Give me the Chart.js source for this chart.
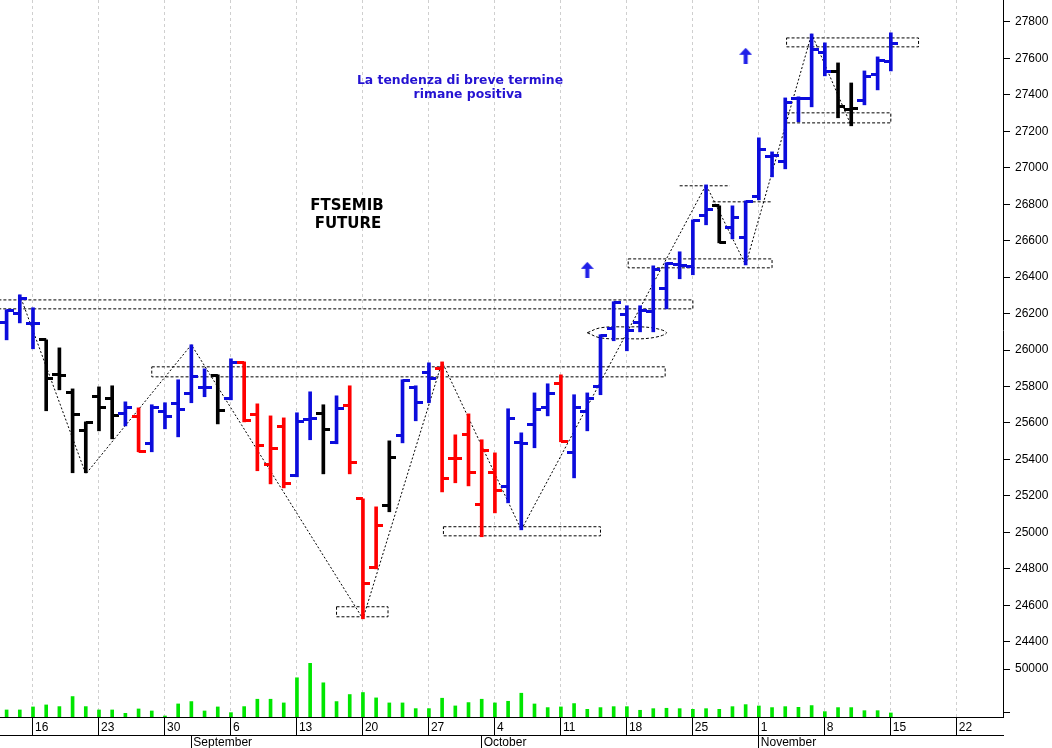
<!DOCTYPE html>
<html>
<head>
<meta charset="utf-8">
<script src="https://cdn.jsdelivr.net/npm/chart.js@4.4.1/dist/chart.umd.min.js"></script>
<style>
  html, body { margin: 0; padding: 0; background: #fff; }
  #wrap { position: relative; width: 1052px; height: 748px; overflow: hidden; }
  canvas { display: block; }
  .note { position: absolute; font-family: "DejaVu Sans", Verdana, sans-serif; font-weight: bold;
          white-space: nowrap; text-align: center; line-height: 1; }
</style>
</head>
<body>
<div id="wrap">
  <canvas id="chart" width="1052" height="748"></canvas>
  <div class="note" style="left:310px;top:74px;width:300px;font-size:12.4px;color:#2412d2">La tendenza di breve termine</div>
  <div class="note" style="left:318px;top:88px;width:300px;font-size:12.4px;color:#2412d2">rimane positiva</div>
  <div class="note" style="left:247px;top:198px;width:200px;font-size:15px;color:#000">FTSEMIB</div>
  <div class="note" style="left:248px;top:216px;width:200px;font-size:15px;color:#000">FUTURE</div>
</div>
<script>
// trading days, 12 Aug -> 15 Nov 2021 (x = position in this list)
const dates = [
  "12/08","13/08","16/08","17/08","18/08","19/08","20/08","23/08","24/08","25/08","26/08","27/08","30/08","31/08",
  "01/09","02/09","03/09","06/09","07/09","08/09","09/09","10/09","13/09","14/09","15/09","16/09","17/09","20/09",
  "21/09","22/09","23/09","24/09","27/09","28/09","29/09","30/09",
  "01/10","04/10","05/10","06/10","07/10","08/10","11/10","12/10","13/10","14/10","15/10","18/10","19/10","20/10",
  "21/10","22/10","25/10","26/10","27/10","28/10","29/10",
  "01/11","02/11","03/11","04/11","05/11","08/11","09/11","10/11","11/11","12/11","15/11"
];
const open = [26149,26199,26145,26056,25866,25765,25560,25744,25733,25650,25634,25486,25661,25705,
  25760,25795,25859,25733,25930,25645,25371,25579,25310,25617,25650,25491,25694,25184,
  24806,25146,25530,25793,25875,25897,25404,25535,
  25151,25327,25250,25491,25590,25683,25815,25436,25661,25798,26116,26193,26149,26210,
  26336,26468,26456,26736,26791,26670,26616,
  26840,27060,27032,27378,27378,27630,27526,27317,27367,27509,27581];
const high = [26221,26303,26232,26056,26012,25787,25606,25798,25804,25716,25683,25700,25711,25837,
  26029,25897,25864,25952,25935,25705,25639,25628,25656,25771,25700,25749,25804,25184,
  25140,25502,25837,25804,25930,25935,25535,25650,
  25508,25436,25678,25546,25765,25815,25864,25755,25765,26084,26265,26243,26243,26462,
  26479,26539,26714,26906,26791,26791,26818,
  27164,27087,27383,27389,27734,27685,27575,27465,27531,27608,27740];
const low = [26056,26149,26007,25667,25782,25327,25327,25557,25513,25584,25442,25442,25568,25524,
  25711,25744,25595,25727,25606,25338,25266,25244,25305,25508,25321,25486,25321,24526,
  24800,25113,25491,25612,25711,25222,25272,25255,
  24976,25107,25162,25014,25464,25639,25497,25299,25557,25755,26051,25996,26100,26100,
  26226,26391,26413,26687,26588,26610,26467,
  26824,26950,26994,27252,27334,27504,27274,27230,27345,27427,27531];
const close = [26215,26281,26145,25842,25860,25645,25600,25683,25639,25683,25442,25683,25634,25672,
  25853,25795,25667,25930,25612,25475,25459,25266,25606,25623,25563,25678,25382,24718,
  25036,25409,25832,25711,25842,25294,25404,25327,
  25447,25228,25623,25486,25672,25760,25497,25683,25733,26078,26259,26106,26215,26440,
  26473,26462,26709,26769,26588,26725,26813,
  27098,27065,27356,27378,27646,27526,27334,27323,27498,27586,27679];
const barColor = [
  "b","b","b","k","k","k","k","k","k","b","r","b","b","b",
  "b","b","k","b","r","r","r","r","b","b","k","b","r","r",
  "r","k","b","b","b","r","r","r",
  "r","r","b","b","b","b","r","b","b","b","b","b","b","b",
  "b","b","b","b","k","b","b",
  "b","b","b","b","b","b","k","k","b","b","b"];
const volume = [7340,7340,10490,12590,10840,21330,10840,7340,7340,3850,8390,6290,1050,13630,
  16080,6290,10490,4540,10840,18530,18530,14680,40900,55940,35660,16080,23420,25520,
  19930,14680,14680,8740,8740,19580,11540,15030,
  18530,14680,16400,24800,13600,9800,10500,14000,8000,9800,10800,10800,7000,8700,
  9100,8700,8000,8700,8000,10800,12900,
  11500,9800,10800,10100,11900,5600,9800,9800,6600,6600,4200];

// axis ticks
const weekTicks = [2,7,12,17,22,27,32,37,42,47,52,57,62,67,72];
const weekLabels = ["16","23","30","6","13","20","27","4","11","18","25","1","8","15","22"];
const monthTicks = [14,36,57];
const monthLabels = ["September","October","November"];
const priceTicks = [24400,24500,24600,24700,24800,24900,25000,25100,25200,25300,25400,25500,25600,25700,
  25800,25900,26000,26100,26200,26300,26400,26500,26600,26700,26800,26900,27000,27100,27200,27300,
  27400,27500,27600,27700,27800];
const volMax = 59440;
const volTicks = [4500,15000,26500,50000,volMax];

// drawn annotations: swing line, dashed boxes [x1,x2,top,bottom], dashed levels [x1,x2,y]
const swingX = [1,6,14,27,33,39,53,56,61,64];
const swingY = [26303,25320,26029,24526,25935,25014,26906,26467,27734,27230];
const boxes = [
  [-1, 52.0, 26275, 26226],
  [11.0, 49.9, 25908, 25853],
  [25.0, 28.9, 24592, 24537],
  [33.1, 45.0, 25031, 24981],
  [47.1, 58.0, 26500, 26451],
  [59.1, 69.1, 27712, 27663],
  [59.1, 67.0, 27301, 27246],
];
const levels = [[51.0, 54.8, 26901], [53.5, 57.9, 26813]];
const ovalX = [44.0, 45.0, 46.9, 48.9, 50.0, 48.9, 46.9, 45.0, 44.0];
const ovalY = [26095, 26122, 26127, 26122, 26095, 26067, 26062, 26067, 26095];
const arrowX = [44, 56];
const arrowY = [26440, 27614];

const COLORS = { b: "#0c0cdc", r: "#ff0000", k: "#000000" };
const FONT = '"Liberation Sans", Arial, sans-serif';

function tickImg(color, side) {
  const c = document.createElement("canvas");
  c.width = 14; c.height = 3;
  const g = c.getContext("2d");
  g.fillStyle = color;
  g.fillRect(side === "L" ? 0 : 7, 0, 7, 3);
  return c;
}
const openImg = {}, closeImg = {};
for (const k in COLORS) { openImg[k] = tickImg(COLORS[k], "L"); closeImg[k] = tickImg(COLORS[k], "R"); }

const arrowImg = (() => {
  const c = document.createElement("canvas");
  c.width = 13; c.height = 16;
  const g = c.getContext("2d");
  g.fillStyle = "#2020e8";
  g.beginPath(); g.moveTo(6.5, 0); g.lineTo(13, 7); g.lineTo(0, 7); g.closePath(); g.fill();
  g.fillRect(4.5, 7, 4, 9);
  return c;
})();

const dashed = (data, dash) => ({
  type: "scatter", showLine: true, data, xAxisID: "x", yAxisID: "y",
  borderColor: "#000", borderWidth: 1, borderDash: dash, pointRadius: 0, order: 5,
});

const datasets = [];
datasets.push(dashed(swingX.map((x, i) => ({ x, y: swingY[i] })), [2, 2]));
boxes.forEach(([x1, x2, t, b]) => datasets.push(dashed(
  [{ x: x1, y: t }, { x: x2, y: t }, { x: x2, y: b }, { x: x1, y: b }, { x: x1, y: t }], [3, 2])));
levels.forEach(([x1, x2, y]) => datasets.push(dashed([{ x: x1, y }, { x: x2, y }], [3, 2])));
datasets.push(Object.assign(dashed(ovalX.map((x, i) => ({ x, y: ovalY[i] })), [3, 2]), { tension: 0.4 }));

datasets.push({
  type: "bar", xAxisID: "x", yAxisID: "y", order: 1, grouped: false, barThickness: 3,
  data: dates.map((d, i) => ({ x: i, y: [low[i], high[i]] })),
  backgroundColor: barColor.map((k) => COLORS[k]),
});
datasets.push({
  type: "scatter", xAxisID: "x", yAxisID: "y", order: 0, pointRadius: 3,
  data: dates.map((d, i) => ({ x: i, y: open[i] })),
  pointStyle: (c) => openImg[barColor[c.dataIndex]],
});
datasets.push({
  type: "scatter", xAxisID: "x", yAxisID: "y", order: 0, pointRadius: 3,
  data: dates.map((d, i) => ({ x: i, y: close[i] })),
  pointStyle: (c) => closeImg[barColor[c.dataIndex]],
});
datasets.push({
  type: "scatter", xAxisID: "x", yAxisID: "y", order: 0, pointRadius: 3,
  data: arrowX.map((x, i) => ({ x, y: arrowY[i] })), pointStyle: arrowImg,
});
datasets.push({
  type: "bar", xAxisID: "x", yAxisID: "yv", order: 1, grouped: false, barThickness: 3,
  data: dates.map((d, i) => ({ x: i, y: volume[i] })), backgroundColor: "#00e600",
});

Chart.defaults.font.family = FONT;
Chart.defaults.font.size = 12;
Chart.defaults.color = "#000";

// no extra room for end labels: the plot runs edge to edge
const noPad = (s) => { s.paddingTop = 0; s.paddingBottom = 0; s.paddingLeft = 0; s.paddingRight = 0; };

new Chart(document.getElementById("chart"), {
  data: { datasets },
  options: {
    responsive: false, animation: false, events: [],
    layout: { padding: 0, autoPadding: false },
    plugins: { legend: { display: false }, tooltip: { enabled: false } },
    scales: {
      x: {
        type: "linear", position: "bottom", min: -0.5, max: 75.5, offset: false,
        afterBuildTicks: (s) => { s.ticks = weekTicks.map((v) => ({ value: v })); },
        afterFit: (s) => { s.height = 18; noPad(s); },
        grid: { offset: false, color: "#cfcfcf", tickColor: "#000", tickLength: 18 },
        border: { display: true, color: "#000", dash: [3, 3] },
        ticks: { autoSkip: false, maxRotation: 0, align: "start", labelOffset: 2, padding: -15,
                 callback: (v, i) => weekLabels[i] },
      },
      x2: {
        type: "linear", position: "bottom", min: -0.5, max: 75.5, offset: false,
        afterBuildTicks: (s) => { s.ticks = monthTicks.map((v) => ({ value: v })); },
        afterFit: (s) => { s.height = 13; noPad(s); },
        grid: { drawOnChartArea: false, color: "#000", tickColor: "#000", tickLength: 13 },
        border: { display: true, color: "#000" },
        ticks: { autoSkip: false, maxRotation: 0, align: "start", labelOffset: 2, padding: -13,
                 callback: (v, i) => monthLabels[i] },
      },
      y: {
        type: "linear", position: "right", stack: "right", stackWeight: 660,
        min: 24300, max: 27920,
        afterBuildTicks: (s) => { s.ticks = priceTicks.map((v) => ({ value: v })); },
        afterFit: (s) => { s.width = 49; noPad(s); },
        grid: { drawOnChartArea: false, color: "#000", tickLength: 7 },
        border: { display: true, color: "#000" },
        ticks: { padding: 5, callback: (v) => String(v) },
      },
      yv: {
        type: "linear", position: "right", stack: "right", stackWeight: 57,
        min: 0, max: volMax,
        afterBuildTicks: (s) => { s.ticks = volTicks.map((v) => ({ value: v })); },
        afterFit: (s) => { s.width = 49; noPad(s); },
        grid: { color: (c) => (c.tick && c.tick.value === volMax ? "#000" : "rgba(0,0,0,0)"),
                tickColor: "#000", tickLength: 7 },
        border: { display: true, color: "#000" },
        ticks: { padding: 5, callback: (v) => (v === 50000 ? "50000" : "") },
      },
    },
  },
});
</script>
</body>
</html>
